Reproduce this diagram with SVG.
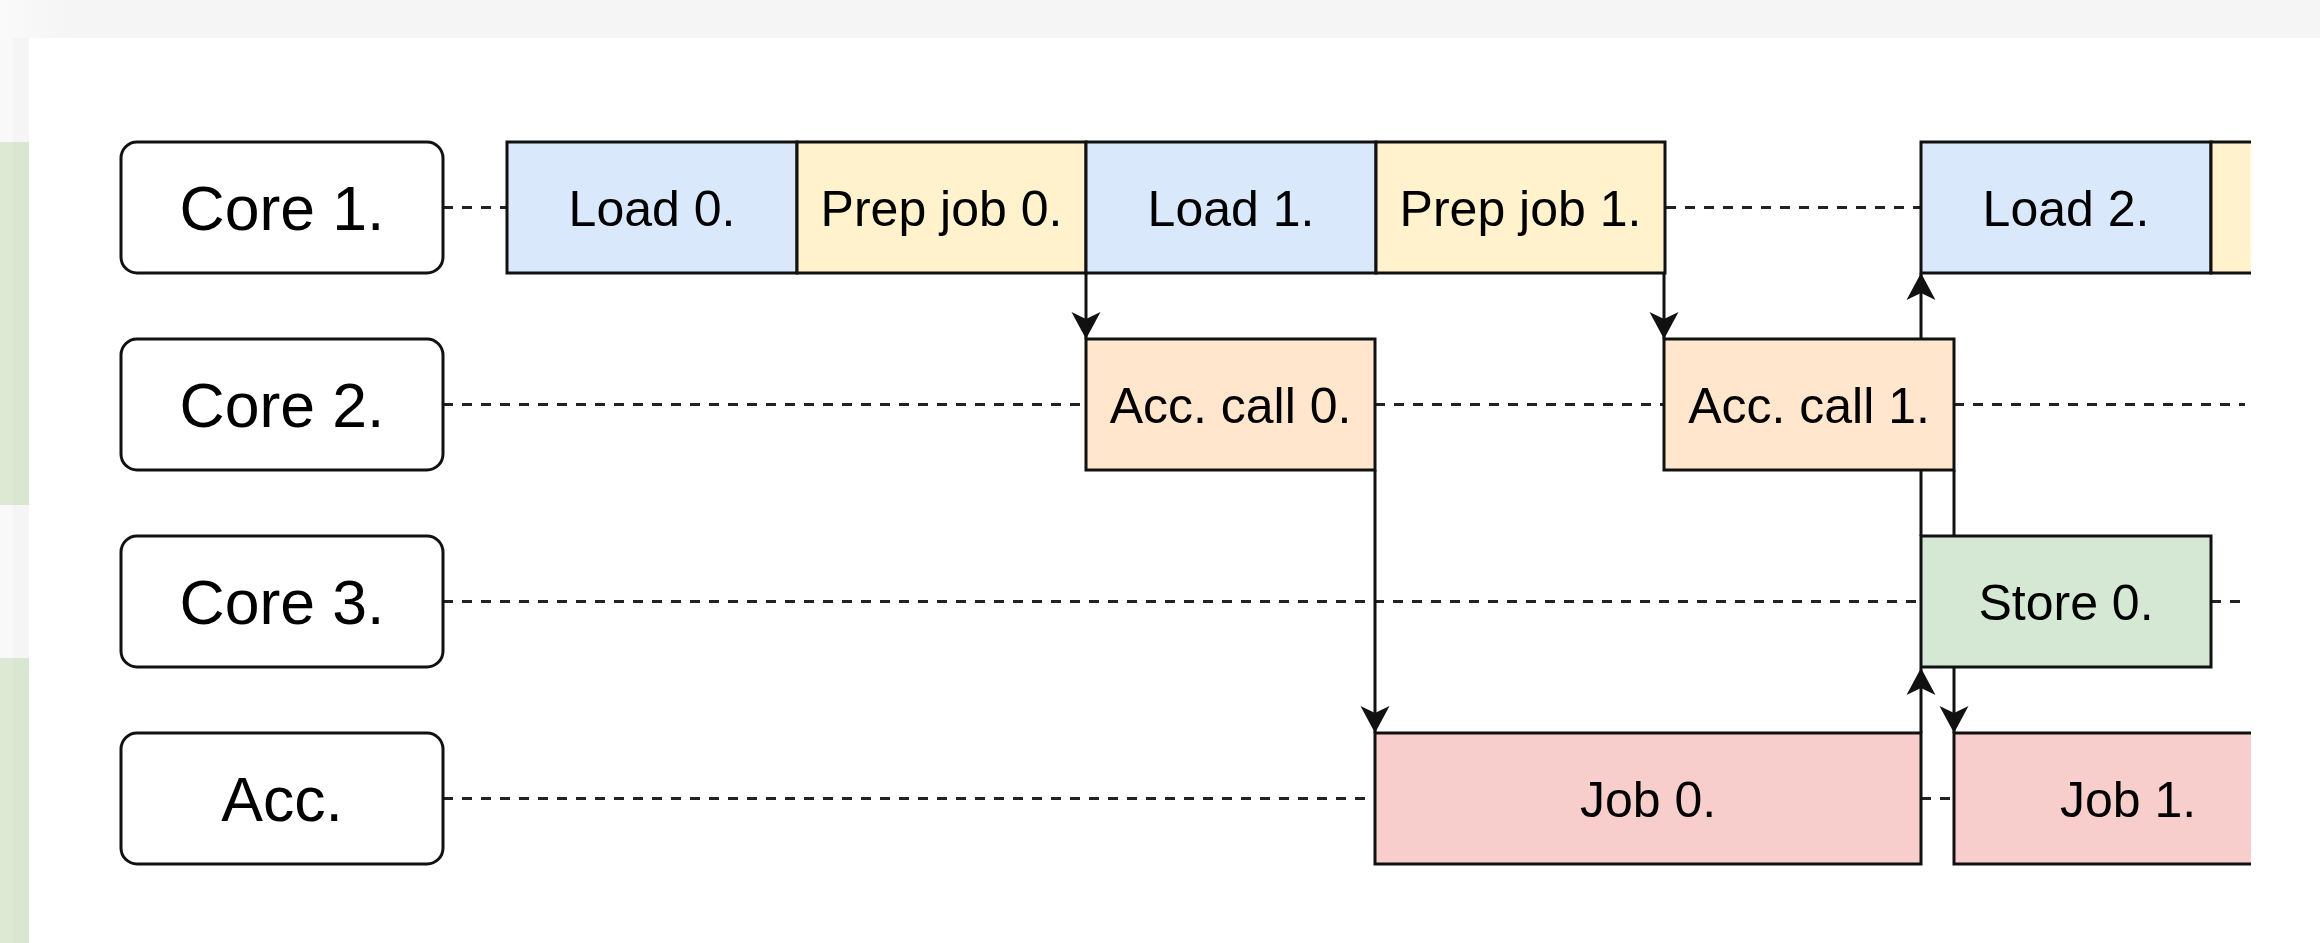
<svg xmlns="http://www.w3.org/2000/svg" width="2320" height="943" viewBox="0 0 2320 943">
<defs>
<style>
.lbl{fill:#fff;stroke:#111;stroke-width:3}
.cell{stroke:#111;stroke-width:3}
.load{fill:#dae8fc}
.prep{fill:#fff2cc}
.call{fill:#ffe6cc}
.store{fill:#d5e8d4}
.job{fill:#f8cecc}
.t1{font-family:"Liberation Sans",Arial,sans-serif;font-size:62.5px;fill:#000;text-anchor:middle}
.t2{font-family:"Liberation Sans",Arial,sans-serif;font-size:50px;fill:#000;text-anchor:middle}
.dash{stroke:#222;stroke-width:3;stroke-dasharray:10 9;fill:none}
.arr{stroke:#111;stroke-width:3;fill:none;marker-end:url(#ah)}
.ln{stroke:#111;stroke-width:3;fill:none}
</style>
<marker id="ah" markerUnits="userSpaceOnUse" markerWidth="28" markerHeight="30" refX="27" refY="14.5" orient="auto" overflow="visible">
<path d="M27,14.5 L0,0 L7,14.5 L0,29 Z" fill="#111"/>
</marker>
<linearGradient id="tg" x1="0" y1="0" x2="1" y2="0">
<stop offset="0" stop-color="#fafafa"/>
<stop offset="1" stop-color="#f5f5f5"/>
</linearGradient>
<clipPath id="clip"><rect x="0" y="0" width="2251" height="943"/></clipPath>
</defs>
<g id="background">
<rect x="0" y="0" width="2320" height="943" fill="#fff"/>
<rect x="0" y="0" width="2320" height="38" fill="#f5f5f5"/>
<rect x="0" y="0" width="70" height="38" fill="url(#tg)"/>
<rect x="0" y="38" width="29" height="104" fill="#f5f5f5"/>
<rect x="0" y="38" width="13" height="104" fill="#f9f9f9"/>
<rect x="0" y="142" width="29" height="363" fill="#d9e6d0"/>
<rect x="0" y="142" width="13" height="363" fill="#dde9d4"/>
<rect x="0" y="505" width="29" height="153" fill="#f5f5f5"/>
<rect x="0" y="505" width="13" height="153" fill="#f9f9f9"/>
<rect x="0" y="658" width="29" height="285" fill="#d9e6d0"/>
<rect x="0" y="658" width="13" height="285" fill="#dde9d4"/>
</g>
<g id="connectors" clip-path="url(#clip)">
<line class="dash" x1="443" y1="207.5" x2="507" y2="207.5"/>
<line class="dash" x1="1666" y1="207.5" x2="1921" y2="207.5"/>
<line class="dash" x1="443" y1="404.5" x2="1086" y2="404.5"/>
<line class="dash" x1="1375" y1="404.5" x2="1664" y2="404.5"/>
<line class="dash" x1="1954" y1="404.5" x2="2245" y2="404.5"/>
<line class="dash" x1="443" y1="601.5" x2="1921" y2="601.5"/>
<line class="dash" x1="2211" y1="601.5" x2="2245" y2="601.5"/>
<line class="dash" x1="443" y1="798.5" x2="1375" y2="798.5"/>
<line class="dash" x1="1921" y1="798.5" x2="1954" y2="798.5"/>
<line class="arr" x1="1086" y1="273" x2="1086" y2="339"/>
<line class="arr" x1="1664" y1="273" x2="1664" y2="339"/>
<line class="arr" x1="1375" y1="470" x2="1375" y2="733"/>
<line class="arr" x1="1954" y1="470" x2="1954" y2="733"/>
<line class="arr" x1="1921" y1="733" x2="1921" y2="668"/>
<line class="arr" x1="1921" y1="536" x2="1921" y2="273"/>
</g>
<g id="core1-label"><rect class="lbl" x="121" y="142" width="322" height="131" rx="16"/><text class="t1" x="282" y="230">Core 1.</text></g>
<g id="core2-label"><rect class="lbl" x="121" y="339" width="322" height="131" rx="16"/><text class="t1" x="282" y="427">Core 2.</text></g>
<g id="core3-label"><rect class="lbl" x="121" y="536" width="322" height="131" rx="16"/><text class="t1" x="282" y="624">Core 3.</text></g>
<g id="acc-label"><rect class="lbl" x="121" y="733" width="322" height="131" rx="16"/><text class="t1" x="282" y="821">Acc.</text></g>
<g id="load0"><rect class="cell load" x="507" y="142" width="290" height="131"/><text class="t2" x="652" y="225.5">Load 0.</text></g>
<g id="prep0"><rect class="cell prep" x="797" y="142" width="289" height="131"/><text class="t2" x="941.5" y="225.5">Prep job 0.</text></g>
<g id="load1"><rect class="cell load" x="1086" y="142" width="290" height="131"/><text class="t2" x="1231" y="225.5">Load 1.</text></g>
<g id="prep1"><rect class="cell prep" x="1376" y="142" width="289" height="131"/><text class="t2" x="1520.5" y="225.5">Prep job 1.</text></g>
<g id="load2"><rect class="cell load" x="1921" y="142" width="290" height="131"/><text class="t2" x="2066" y="225.5">Load 2.</text></g>
<g id="prep2" clip-path="url(#clip)"><rect class="cell prep" x="2211" y="142" width="289" height="131"/></g>
<g id="acccall0"><rect class="cell call" x="1086" y="339" width="289" height="131"/><text class="t2" x="1230.5" y="422.5">Acc. call 0.</text></g>
<g id="acccall1"><rect class="cell call" x="1664" y="339" width="290" height="131"/><text class="t2" x="1809" y="422.5">Acc. call 1.</text></g>
<g id="store0"><rect class="cell store" x="1921" y="536" width="290" height="131"/><text class="t2" x="2066" y="619.5">Store 0.</text></g>
<g id="job0"><rect class="cell job" x="1375" y="733" width="546" height="131"/><text class="t2" x="1648" y="816.5">Job 0.</text></g>
<g id="job1" clip-path="url(#clip)"><rect class="cell job" x="1954" y="733" width="348" height="131"/><text class="t2" x="2128" y="816.5">Job 1.</text></g>
</svg>
